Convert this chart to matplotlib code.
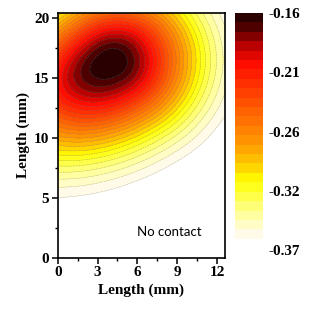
import numpy as np
import matplotlib
matplotlib.use('Agg')
import matplotlib.pyplot as plt
from matplotlib.colors import LinearSegmentedColormap, BoundaryNorm

# values
peak_xy = (4.0, 16.3)          # mm, darkest spot
peak_value = -0.16
tail_value = -0.38             # value the field decays toward
tilt_deg = 35.0                # tilt of the contact ellipse
scale_up, scale_down = 4.5, 6.4    # mm, along tilt (upper-right / lower-left)
side_up, side_down = 3.8, 4.4      # mm, across tilt (upper-left / lower-right)
contact_limit = -0.36          # below this: no contact (white)
n_bands = 24

cbar_ticks = [-0.16, -0.2125, -0.265, -0.3175, -0.37]
cbar_labels = ['-0.16', '-0.21', '-0.26', '-0.32', '-0.37']
x_ticks = [0, 3, 6, 9, 12]
y_ticks = [0, 5, 10, 15, 20]

cmap_pos = [0.0, 0.095, 0.245, 0.315, 0.435, 0.57, 0.79, 0.875, 0.95, 1.0]
cmap_col = ['#fffbe8', '#ffff9a', '#ffff00', '#ffcc00', '#ff9000',
            '#ff6000', '#ff0a00', '#b00000', '#500000', '#2a0000']

x = np.linspace(0, 12.6, 300)
y = np.linspace(0, 20.4, 400)
X, Y = np.meshgrid(x, y)
dx = X - peak_xy[0]
dy = Y - peak_xy[1]
t = np.radians(tilt_deg)
u = np.cos(t) * dx + np.sin(t) * dy
w = -np.sin(t) * dx + np.cos(t) * dy
su = np.where(u > 0, scale_up, scale_down)
sw = np.where(w > 0, side_up, side_down)
r2 = (u / su) ** 2 + (w / sw) ** 2
Z = tail_value + (peak_value - tail_value) * np.exp(-r2 / 2)

levels = np.linspace(contact_limit, peak_value, n_bands + 1)
levels[-1] += 1e-6
cmap = LinearSegmentedColormap.from_list('contact', list(zip(cmap_pos, cmap_col)))
norm = BoundaryNorm(levels, cmap.N)

plt.rcParams['font.family'] = 'Liberation Serif'
plt.rcParams['font.weight'] = 'bold'

fig = plt.figure(figsize=(3.27, 3.18), dpi=100)
ax = fig.add_axes([0.1765, 0.1887, 0.5115, 0.7713])
ax.contourf(X, Y, Z, levels=levels, cmap=cmap, norm=norm)
ax.contour(X, Y, Z, levels=levels[:-1], colors='#808080', linewidths=0.35, alpha=0.6)

ax.set_xlim(0, 12.6)
ax.set_ylim(0, 20.4)
ax.set_xticks(x_ticks)
ax.set_yticks(y_ticks)
ax.set_xticks(np.arange(1.5, 12.6, 3), minor=True)
ax.set_yticks(np.arange(2.5, 20.4, 5), minor=True)
ax.tick_params(which='major', direction='out', length=4, width=1.1, labelsize=11, pad=2)
ax.tick_params(which='minor', direction='out', length=2.5, width=1.0)
for s in ax.spines.values():
    s.set_linewidth(1.2)
ax.set_xlabel('Length (mm)', fontsize=11, fontweight='bold', labelpad=3)
ax.set_ylabel('Length (mm)', fontsize=11, fontweight='bold', labelpad=3)
ax.text(6.0, 2.2, 'No contact', fontsize=9.5, family='Lato', fontweight='normal',
        va='center', ha='left')

cax = fig.add_axes([0.718, 0.2138, 0.0856, 0.7452])
mids = 0.5 * (levels[:-1] + levels[1:])
cax.pcolormesh([0, 1], levels, mids.reshape(-1, 1), cmap=cmap, norm=norm)
cax.set_xlim(0, 1)
cax.set_ylim(-0.37, -0.16)
cax.set_xticks([])
cax.yaxis.tick_right()
cax.set_yticks(cbar_ticks)
cax.set_yticklabels(cbar_labels)
cax.tick_params(axis='y', length=0, pad=4, labelsize=11)
for s in cax.spines.values():
    s.set_visible(False)

fig.savefig('out.png', dpi=100)
